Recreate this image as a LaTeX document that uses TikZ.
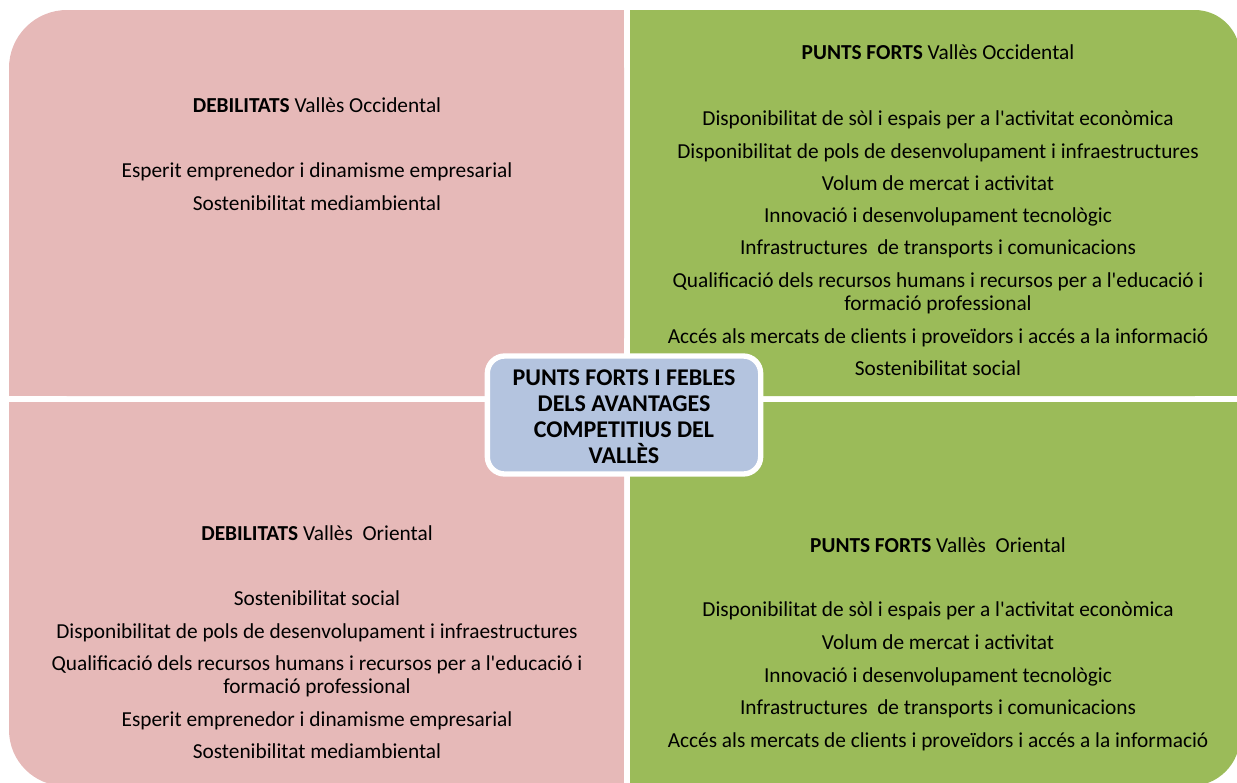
\documentclass[tikz,border=0pt]{standalone}
\usepackage{fontspec}
\setmainfont{Carlito}
\definecolor{qpink}{HTML}{E6B9B8}
\definecolor{qgreen}{HTML}{9BBB59}
\definecolor{qblue}{HTML}{B4C4DF}
\newcommand{\apos}{\textquotesingle}
\begin{document}
\begin{tikzpicture}[x=0.75pt,y=-0.75pt,
  txt/.style={anchor=base,inner sep=0pt,font=\fontsize{16}{19}\selectfont},
  centerbox/.style={draw=white,line width=4pt,fill=qblue,rounded corners=13pt,
    minimum width=205pt,minimum height=88.5pt,inner sep=0pt},
  centertext/.style={inner sep=0pt,align=center,
    font=\fontsize{18}{19.6}\selectfont\bfseries}]
\useasboundingbox (0,0) rectangle (1237,782);
\clip (0,0) rectangle (1237,782);
% top-left
\fill[qpink,rounded corners=43.5pt] (9,10) rectangle (624,396);
\fill[qpink] (300,10) rectangle (624,396);
\fill[qpink] (9,200) rectangle (624,396);
% bottom-left
\fill[qpink,rounded corners=42pt] (9,402) rectangle (624,786);
\fill[qpink] (300,402) rectangle (624,786);
\fill[qpink] (9,402) rectangle (624,600);
% top-right
\fill[qgreen,rounded corners=34pt] (630,10) rectangle (1240,396);
\fill[qgreen] (630,10) rectangle (900,396);
\fill[qgreen] (630,200) rectangle (1240,396);
% bottom-right
\fill[qgreen,rounded corners=37pt] (630,402) rectangle (1240,786);
\fill[qgreen] (630,402) rectangle (900,786);
\fill[qgreen] (630,402) rectangle (1240,600);

% top-left texts
\node[txt] (dOcc) at (317,112) {\textbf{DEBILITATS} Vallès Occidental};
\node[txt] (dO1) at (317,177) {Esperit emprenedor i dinamisme empresarial};
\node[txt] (dO2) at (317,210) {Sostenibilitat mediambiental};

% top-right texts
\node[txt] (fOcc) at (938,59) {\textbf{PUNTS FORTS} Vallès Occidental};
\node[txt] (fO1) at (938,125) {Disponibilitat de sòl i espais per a l\apos activitat econòmica};
\node[txt] (fO2) at (938,158) {Disponibilitat de pols de desenvolupament i infraestructures};
\node[txt] (fO3) at (938,190) {Volum de mercat i activitat};
\node[txt] (fO4) at (938,222) {Innovació i desenvolupament tecnològic};
\node[txt] (fO5) at (938,254) {Infrastructures~ de transports i comunicacions};
\node[txt] (fO6a) at (938,287) {Qualificació dels recursos humans i recursos per a l\apos educació i};
\node[txt] (fO6b) at (938,310) {formació professional};
\node[txt] (fO7) at (938,343) {Accés als mercats de clients i proveïdors i accés a la informació};
\node[txt] (fO8) at (938,375) {Sostenibilitat social};

% bottom-left texts
\node[txt] (dOr) at (317,540) {\textbf{DEBILITATS} Vallès~ Oriental};
\node[txt] (dR1) at (317,605) {Sostenibilitat social};
\node[txt] (dR2) at (317,638) {Disponibilitat de pols de desenvolupament i infraestructures};
\node[txt] (dR3a) at (317,670) {Qualificació dels recursos humans i recursos per a l\apos educació i};
\node[txt] (dR3b) at (317,693) {formació professional};
\node[txt] (dR4) at (317,726) {Esperit emprenedor i dinamisme empresarial};
\node[txt] (dR5) at (317,758) {Sostenibilitat mediambiental};

% bottom-right texts
\node[txt] (fOr) at (938,552) {\textbf{PUNTS FORTS} Vallès~ Oriental};
\node[txt] (fR1) at (938,616) {Disponibilitat de sòl i espais per a l\apos activitat econòmica};
\node[txt] (fR2) at (938,649) {Volum de mercat i activitat};
\node[txt] (fR3) at (938,682) {Innovació i desenvolupament tecnològic};
\node[txt] (fR4) at (938,714) {Infrastructures~ de transports i comunicacions};
\node[txt] (fR5) at (938,747) {Accés als mercats de clients i proveïdors i accés a la informació};

% center box
\node[centerbox] (center) at (624,415) {};
\node[centertext] (centerlabel) at (624,417) {PUNTS FORTS I FEBLES\\DELS AVANTAGES\\COMPETITIUS DEL\\VALLÈS};
\end{tikzpicture}
\end{document}
